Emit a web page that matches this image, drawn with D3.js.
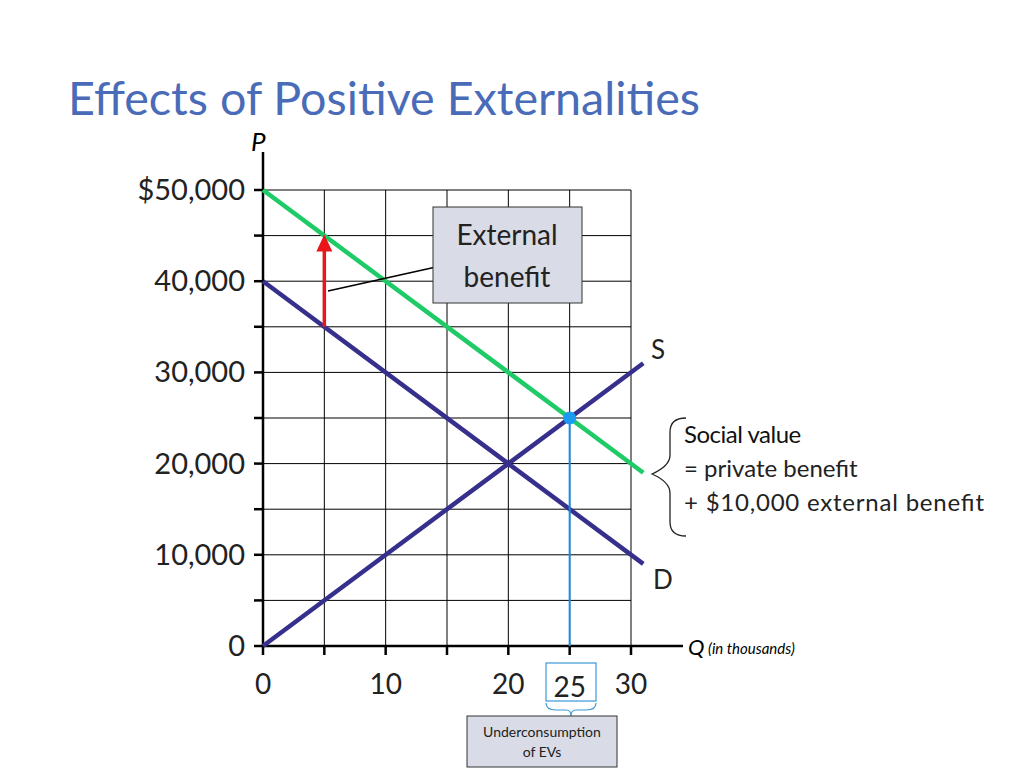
<!DOCTYPE html>
<html><head><meta charset="utf-8">
<script src="https://cdn.jsdelivr.net/npm/d3@7"></script>
<style>body{margin:0;background:#fff}svg{font-family:Lato,"Open Sans",sans-serif}</style>
</head><body><svg id="c" width="1024" height="768"></svg>
<script>
const xTicks=[0,10,20,30];
const yTicks=[0,10000,20000,30000,40000,50000];
const yTickLabels=["0","10,000","20,000","30,000","40,000","$50,000"];
const supplyQ=[0,31], supplyP=[0,31000];
const demandQ=[0,31], demandP=[40000,9000];
const socialQ=[0,31], socialP=[50000,19000];
const arrowQ=5, arrowFrom=35000, arrowTo=45000;
const eqQ=25, eqP=25000;

const svg=d3.select("#c");
const x=d3.scaleLinear().domain([0,30]).range([263,631]);
const y=d3.scaleLinear().domain([0,50000]).range([646,190]);

svg.append("text").attr("x",68).attr("y",115).attr("fill","#4a6cb8").attr("font-size",46).attr("textLength",632).attr("lengthAdjust","spacingAndGlyphs").text("Effects of Positive Externalities");

const g=svg.append("g");
d3.range(0,31,5).forEach(q=>g.append("line").attr("x1",x(q)).attr("x2",x(q)).attr("y1",y(0)).attr("y2",y(50000)).attr("stroke","#000").attr("stroke-width",1));
d3.range(0,50001,5000).forEach(p=>g.append("line").attr("x1",x(0)).attr("x2",x(30)).attr("y1",y(p)).attr("y2",y(p)).attr("stroke","#000").attr("stroke-width",1));

svg.append("line").attr("x1",x(0)).attr("x2",x(0)).attr("y1",y(0)).attr("y2",152).attr("stroke","#000").attr("stroke-width",2.5);
svg.append("line").attr("x1",x(0)).attr("x2",683).attr("y1",y(0)).attr("y2",y(0)).attr("stroke","#000").attr("stroke-width",2.5);
d3.range(0,50001,5000).forEach(p=>svg.append("line").attr("x1",x(0)-9).attr("x2",x(0)).attr("y1",y(p)).attr("y2",y(p)).attr("stroke","#000").attr("stroke-width",2.5));
d3.range(0,31,5).forEach(q=>svg.append("line").attr("x1",x(q)).attr("x2",x(q)).attr("y1",y(0)).attr("y2",y(0)+9).attr("stroke","#000").attr("stroke-width",2.5));
yTicks.forEach((t,i)=>svg.append("text").attr("x",245).attr("y",y(t)+10).attr("text-anchor","end").attr("font-size",29).attr("fill","#222").text(yTickLabels[i]));
xTicks.forEach(t=>svg.append("text").attr("x",x(t)).attr("y",694).attr("text-anchor","middle").attr("font-size",28).attr("fill","#222").text(t));
svg.append("text").attr("x",x(eqQ)).attr("y",697).attr("text-anchor","middle").attr("font-size",28).attr("fill","#222").text("25");
svg.append("rect").attr("x",546).attr("y",663).attr("width",50).attr("height",38).attr("fill","none").attr("stroke","#3a9ad9").attr("stroke-width",1.2);
svg.append("text").attr("x",251).attr("y",151).attr("font-size",26).attr("font-style","italic").text("P");
svg.append("text").attr("x",688).attr("y",655).attr("font-size",22).attr("font-style","italic").text("Q");
svg.append("text").attr("x",708).attr("y",654).attr("font-size",15).attr("font-style","italic").text("(in thousands)");

const line=(qs,ps,c)=>svg.append("line").attr("x1",x(qs[0])).attr("y1",y(ps[0])).attr("x2",x(qs[1])).attr("y2",y(ps[1])).attr("stroke",c).attr("stroke-width",4.5);
line(supplyQ,supplyP,"#362f8c");
line(demandQ,demandP,"#362f8c");
line(socialQ,socialP,"#1ecb67");
svg.append("text").attr("x",651).attr("y",359).attr("font-size",26).attr("fill","#222").text("S");
svg.append("text").attr("x",653).attr("y",589).attr("font-size",26).attr("fill","#222").text("D");

svg.append("line").attr("x1",x(eqQ)).attr("x2",x(eqQ)).attr("y1",y(eqP)).attr("y2",y(0)).attr("stroke","#1a8fe0").attr("stroke-width",2);
svg.append("circle").attr("cx",x(eqQ)).attr("cy",y(eqP)).attr("r",6.5).attr("fill","#1a9af0");

svg.append("line").attr("x1",x(arrowQ)).attr("x2",x(arrowQ)).attr("y1",y(arrowFrom)).attr("y2",y(arrowTo)+14).attr("stroke","#e8161b").attr("stroke-width",3.5);
svg.append("path").attr("d",`M${x(arrowQ)-8},${y(arrowTo)+16} L${x(arrowQ)},${y(arrowTo)-1} L${x(arrowQ)+8},${y(arrowTo)+16} Z`).attr("fill","#e8161b");

svg.append("line").attr("x1",328).attr("y1",291).attr("x2",436).attr("y2",267).attr("stroke","#000").attr("stroke-width",1.5);
svg.append("rect").attr("x",433).attr("y",207).attr("width",149).attr("height",96).attr("fill","#d9dbe6").attr("stroke","#333").attr("stroke-width",1);
svg.append("text").attr("x",507).attr("y",245).attr("text-anchor","middle").attr("font-size",28).attr("fill","#222").text("External");
svg.append("text").attr("x",507).attr("y",287).attr("text-anchor","middle").attr("font-size",28).attr("fill","#222").text("benefit");

svg.append("path").attr("d","M686,418 Q670,418 670,432 L670,455 Q670,466 652,474 Q670,482 670,493 L670,522 Q670,536 686,536").attr("fill","none").attr("stroke","#222").attr("stroke-width",1.3);
svg.append("text").attr("x",684).attr("y",443).attr("font-size",24).attr("fill","#111").attr("letter-spacing",-0.5).text("Social value");
svg.append("text").attr("x",684).attr("y",477).attr("font-size",24).attr("fill","#222").text("= private benefit");
svg.append("text").attr("x",684).attr("y",511).attr("font-size",24).attr("fill","#222").attr("textLength",300).text("+ $10,000 external benefit");

svg.append("path").attr("d","M546,703 Q546,710 556,710 L566,710 Q571,710 571,716 Q571,710 576,710 L586,710 Q596,710 596,703").attr("fill","none").attr("stroke","#3a9ad9").attr("stroke-width",1.2);
svg.append("rect").attr("x",467).attr("y",716).attr("width",150).attr("height",51).attr("fill","#d9dbe6").attr("stroke","#333").attr("stroke-width",1);
svg.append("text").attr("x",542).attr("y",737).attr("text-anchor","middle").attr("font-size",14).attr("fill","#222").text("Underconsumption");
svg.append("text").attr("x",542).attr("y",757).attr("text-anchor","middle").attr("font-size",14).attr("fill","#222").text("of EVs");
</script></body></html>
